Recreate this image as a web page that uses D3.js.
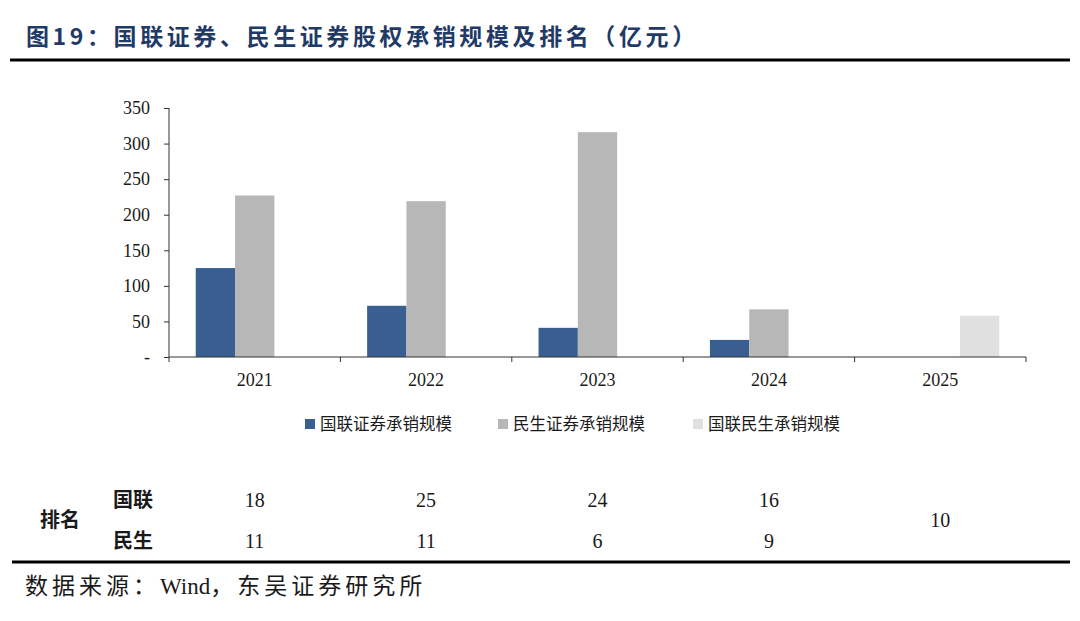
<!DOCTYPE html>
<html>
<head>
<meta charset="utf-8">
<script src="https://cdn.jsdelivr.net/npm/d3@7"></script>
<style>
  body { margin: 0; background: #fff; }
  svg { display: block; }
  .serif { font-family: "Liberation Serif", "Times New Roman", serif; }
  .cjk { font-family: "Noto Sans CJK SC", sans-serif; }
</style>
</head>
<body>
<svg id="chart" width="1080" height="621"></svg>
<script>
var years = ["2021", "2022", "2023", "2024", "2025"];
var seriesNames = ["国联证券承销规模", "民生证券承销规模", "国联民生承销规模"];
var guolian = [125, 72, 41, 24, null];
var minsheng = [227, 219, 316, 67, null];
var combined = [null, null, null, null, 58];
var yTicks = [0, 50, 100, 150, 200, 250, 300, 350];
var rankGuolian = [18, 25, 24, 16];
var rankMinsheng = [11, 11, 6, 9];
var rankCombined = [null, null, null, null, 10];

var COLORS = ["#395e92", "#b7b7b7", "#e0e0e0"];
var TITLE_COLOR = "#1f3a66";
var TEXT = "#1a1a1a";

var svg = d3.select("#chart");
var margin = {left: 169, right: 1026, top: 108, bottom: 357};

var x = d3.scaleBand().domain(years).range([margin.left, margin.right]);
var inner = d3.scaleBand().domain(d3.range(3))
    .range([0, x.bandwidth()]).paddingOuter(0.68).paddingInner(0);
var y = d3.scaleLinear().domain([0, 350]).range([margin.bottom, margin.top]);

// title
svg.append("text")
    .attr("class", "cjk")
    .attr("x", 26).attr("y", 45)
    .attr("font-size", 23).attr("font-weight", "bold")
    .attr("letter-spacing", 3.6)
    .attr("fill", TITLE_COLOR)
    .text("图19：国联证券、民生证券股权承销规模及排名（亿元）");

svg.append("line")
    .attr("x1", 10).attr("x2", 1070).attr("y1", 60).attr("y2", 60)
    .attr("stroke", "#000").attr("stroke-width", 3);

// bars
var series = [guolian, minsheng, combined];
series.forEach(function (vals, s) {
  svg.append("g").selectAll("rect")
      .data(vals.map(function (v, i) { return {year: years[i], v: v}; })
        .filter(function (d) { return d.v != null; }))
      .enter().append("rect")
      .attr("x", function (d) { return x(d.year) + inner(s); })
      .attr("width", inner.bandwidth())
      .attr("y", function (d) { return y(d.v); })
      .attr("height", function (d) { return y(0) - y(d.v); })
      .attr("fill", COLORS[s]);
});

// y axis
var yAxis = svg.append("g")
    .attr("transform", "translate(" + margin.left + ",0)")
    .call(d3.axisLeft(y).tickValues(yTicks).tickSize(5).tickPadding(14)
      .tickFormat(function (d) { return d === 0 ? "-" : d; }));
yAxis.attr("font-family", null);
yAxis.selectAll("text").attr("class", "serif").attr("font-size", 18).attr("fill", TEXT);
yAxis.selectAll("line, path").attr("stroke", "#333");
yAxis.select(".domain").attr("d", "M0," + margin.top + "V" + margin.bottom);

// x axis
var xAxis = svg.append("g")
    .attr("transform", "translate(0," + margin.bottom + ")");
xAxis.append("line")
    .attr("x1", margin.left).attr("x2", margin.right)
    .attr("stroke", "#333");
xAxis.selectAll(".tk")
    .data(years.map(function (d) { return x(d); }).concat([margin.right]))
    .enter().append("line")
    .attr("x1", function (d) { return d; }).attr("x2", function (d) { return d; })
    .attr("y1", 0).attr("y2", 5)
    .attr("stroke", "#333");
xAxis.selectAll(".lbl")
    .data(years).enter().append("text")
    .attr("class", "serif")
    .attr("x", function (d) { return x(d) + x.bandwidth() / 2; })
    .attr("y", 29)
    .attr("text-anchor", "middle")
    .attr("font-size", 18).attr("fill", TEXT)
    .text(function (d) { return d; });

// legend
var legendX = [305, 498, 693];
var legend = svg.append("g");
seriesNames.forEach(function (name, i) {
  legend.append("rect")
      .attr("x", legendX[i]).attr("y", 419)
      .attr("width", 10).attr("height", 10)
      .attr("fill", COLORS[i]);
  legend.append("text")
      .attr("class", "cjk")
      .attr("x", legendX[i] + 15).attr("y", 430)
      .attr("font-size", 16.5).attr("fill", TEXT)
      .text(name);
});

// ranking table
var table = svg.append("g");
function rowLabel(txt, xPos, yPos) {
  table.append("text").attr("class", "cjk")
      .attr("x", xPos).attr("y", yPos).attr("text-anchor", "middle")
      .attr("font-size", 20).attr("font-weight", "bold").attr("fill", TEXT)
      .text(txt);
}
rowLabel("排名", 60, 527);
rowLabel("国联", 133, 507);
rowLabel("民生", 133, 548);

function rankRow(vals, yPos) {
  table.append("g").selectAll("text")
      .data(vals.map(function (v, i) { return {year: years[i], v: v}; })
        .filter(function (d) { return d.v != null; }))
      .enter().append("text")
      .attr("class", "serif")
      .attr("x", function (d) { return x(d.year) + x.bandwidth() / 2; })
      .attr("y", yPos)
      .attr("text-anchor", "middle")
      .attr("font-size", 20).attr("fill", TEXT)
      .text(function (d) { return d.v; });
}
rankRow(rankGuolian, 507);
rankRow(rankMinsheng, 548);
rankRow(rankCombined, 527);

svg.append("line")
    .attr("x1", 12).attr("x2", 1070).attr("y1", 562).attr("y2", 562)
    .attr("stroke", "#000").attr("stroke-width", 3);

svg.append("text")
    .attr("x", 25).attr("y", 594)
    .attr("font-size", 23).attr("fill", TEXT)
    .call(function (t) {
      t.append("tspan").attr("class", "cjk").attr("letter-spacing", 4).text("数据来源：");
      t.append("tspan").attr("class", "serif").text("Wind");
      t.append("tspan").attr("class", "cjk").attr("letter-spacing", 4).text("，东吴证券研究所");
    });
</script>
</body>
</html>
